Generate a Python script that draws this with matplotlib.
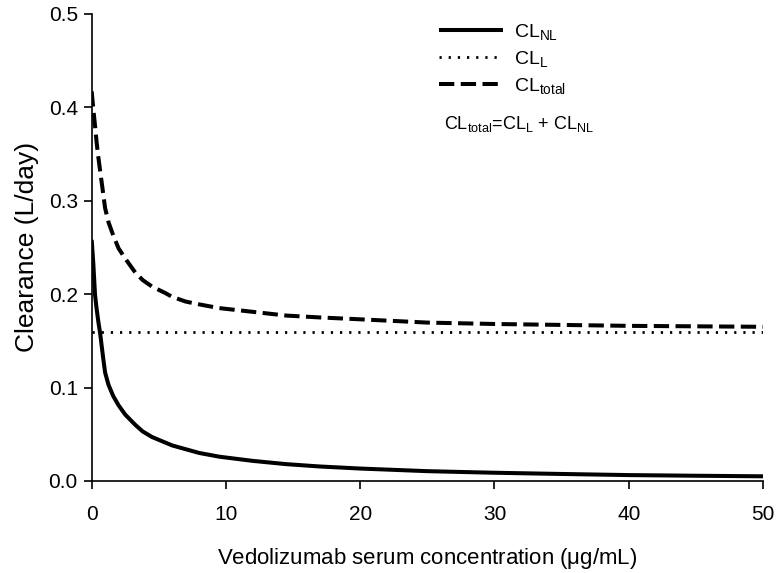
import numpy as np
import matplotlib
matplotlib.use("Agg")
import matplotlib.pyplot as plt

plt.rcParams["font.family"] = ["Liberation Sans", "DejaVu Sans"]
plt.rcParams["mathtext.fontset"] = "custom"
plt.rcParams["mathtext.rm"] = "Liberation Sans"
plt.rcParams["mathtext.it"] = "Liberation Sans"

# concentration (ug/mL) and clearance values (L/day)
conc = [0, 0.12, 0.25, 0.37, 0.5, 0.62, 0.87, 1.0, 1.25, 1.6, 2, 2.5, 3.25,
        3.8, 4.5, 5.5, 6, 7, 8, 9.5, 12, 14.5, 17, 20, 25, 30, 35, 40, 45, 50]
cl_nl = [0.258, 0.233, 0.199, 0.184, 0.170, 0.159, 0.130, 0.116, 0.103,
         0.091, 0.081, 0.071, 0.060, 0.053, 0.047, 0.041, 0.038, 0.034,
         0.030, 0.026, 0.0215, 0.018, 0.0155, 0.0133, 0.0105, 0.0088,
         0.0075, 0.0063, 0.0056, 0.0050]
cl_l = [0.159] * len(conc)
cl_total = [0.417, 0.398, 0.380, 0.362, 0.346, 0.333, 0.306, 0.292, 0.277,
            0.263, 0.249, 0.238, 0.223, 0.215, 0.208, 0.201, 0.197, 0.192,
            0.189, 0.185, 0.181, 0.177, 0.175, 0.173, 0.1695, 0.168, 0.167,
            0.166, 0.1655, 0.165]

xticks = [0, 10, 20, 30, 40, 50]
yticks = [0.0, 0.1, 0.2, 0.3, 0.4, 0.5]

fig = plt.figure(figsize=(7.77, 5.73), dpi=100)
ax = fig.add_axes([0.118, 0.1606, 0.864, 0.8154])

ax.plot(conc, cl_nl, color="black", lw=2.9, solid_capstyle="butt",
        solid_joinstyle="round", label=r"CL$_{\mathrm{NL}}$")
ax.plot(conc, cl_l, color="black", lw=2.0, linestyle=(0, (0.8, 2.5)),
        label=r"CL$_{\mathrm{L}}$")
ax.plot(conc, cl_total, color="black", lw=2.9, linestyle=(0, (3.8, 1.6)),
        label=r"CL$_{\mathrm{total}}$")

ax.set_xlim(0, 50)
ax.set_ylim(0, 0.5)
ax.set_xticks(xticks)
ax.set_yticks(yticks)
ax.set_yticklabels(["{:.1f}".format(v) for v in yticks])
for s in ["top", "right"]:
    ax.spines[s].set_visible(False)
ax.spines["left"].set_linewidth(1.2)
ax.spines["bottom"].set_linewidth(1.2)
ax.tick_params(direction="out", length=6, width=1.2, labelsize=15, pad=4)
ax.tick_params(axis="x", pad=11)

ax.set_xlabel(r"Vedolizumab serum concentration ($\mathrm{\mu}$g/mL)",
              fontsize=16, labelpad=16)
ax.set_ylabel("Clearance (L/day)", fontsize=19, labelpad=7)

ax.legend(loc="upper left", bbox_to_anchor=(0.492, 1.02), frameon=False,
          fontsize=14, handlelength=3.25, handletextpad=0.6, labelspacing=0.35)
ax.text(0.525, 0.765,
        r"CL$_{\mathrm{total}}$=CL$_{\mathrm{L}}$ + CL$_{\mathrm{NL}}$",
        transform=ax.transAxes, fontsize=13, va="center", ha="left")

plt.savefig("out.png", dpi=100)
